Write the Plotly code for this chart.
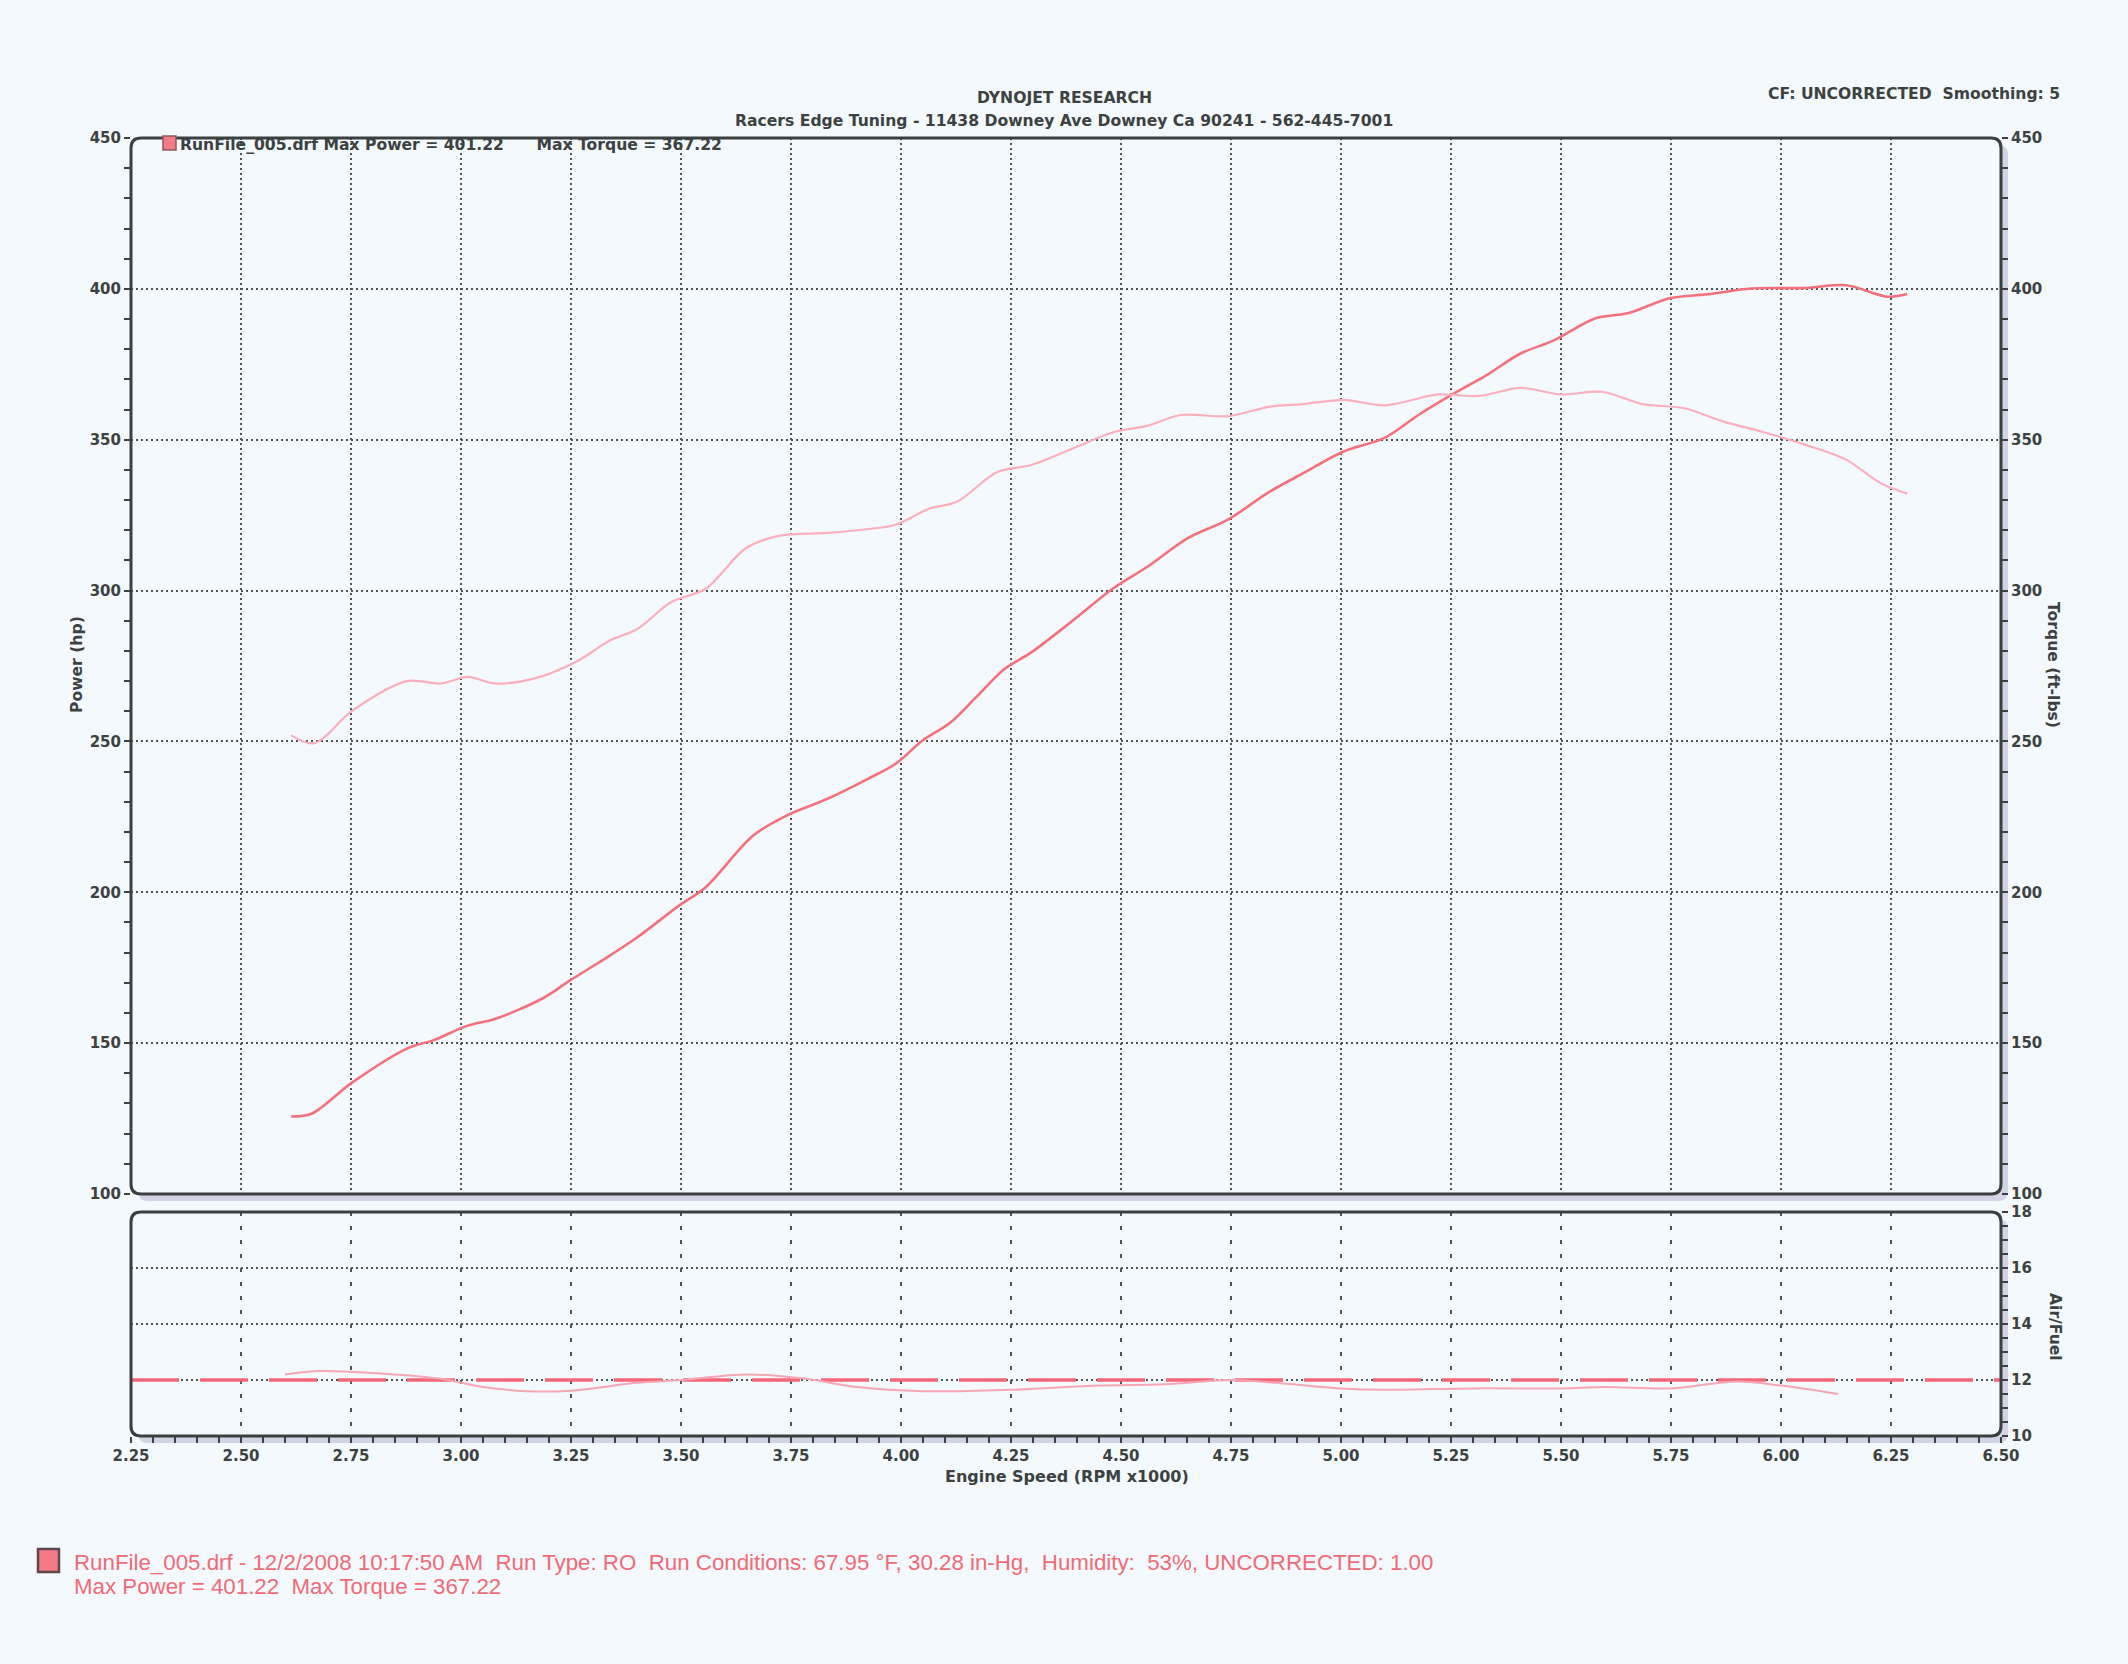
import plotly.graph_objects as go

# ---------------- data ----------------
power_rpm = [2.614, 2.66, 2.753, 2.877, 2.938, 3.015, 3.077, 3.185, 3.247, 3.34, 3.40, 3.494, 3.556,
             3.664, 3.741, 3.833, 3.926, 3.988, 4.049, 4.111, 4.173, 4.235, 4.296, 4.389, 4.481,
             4.559, 4.651, 4.744, 4.836, 4.914, 5.006, 5.099, 5.176, 5.253, 5.33, 5.407, 5.485,
             5.577, 5.654, 5.747, 5.84, 5.932, 6.056, 6.148, 6.241, 6.287]
power_hp = [125.7, 126.6, 137.0, 148.2, 151.0, 155.8, 158.0, 164.8, 170.7, 179.2, 185.0, 195.4, 201.7,
            218.8, 225.5, 231.0, 237.7, 242.6, 250.3, 256.1, 265.0, 274.0, 279.5, 289.9, 300.6,
            307.8, 317.3, 323.6, 332.6, 338.9, 346.1, 350.6, 358.2, 365.0, 371.3, 378.5, 383.0,
            390.2, 392.0, 396.9, 398.3, 400.1, 400.3, 401.2, 397.4, 398.3]

torque_rpm = [2.614, 2.667, 2.753, 2.877, 2.954, 3.015, 3.077, 3.17, 3.262, 3.34, 3.40, 3.478, 3.556,
              3.648, 3.725, 3.833, 3.926, 3.988, 4.065, 4.127, 4.219, 4.296, 4.389, 4.481, 4.559,
              4.636, 4.744, 4.836, 4.914, 5.006, 5.099, 5.222, 5.315, 5.407, 5.5, 5.593, 5.685,
              5.778, 5.87, 5.963, 6.056, 6.148, 6.225, 6.287]
torque_ftlb = [252.0, 249.4, 260.2, 270.0, 269.2, 271.4, 269.2, 271.0, 276.4, 283.6, 287.2, 296.2, 300.6,
               314.1, 318.2, 319.1, 320.4, 321.8, 327.2, 329.4, 339.3, 341.6, 347.0, 352.4, 354.6,
               358.2, 357.8, 360.9, 361.8, 363.2, 361.4, 365.0, 364.5, 367.2, 365.0, 365.9, 361.8,
               360.5, 356.0, 352.4, 348.3, 343.4, 335.7, 332.1]

afr_rpm = [2.60, 2.68, 2.80, 2.95, 3.05, 3.15, 3.25, 3.40, 3.50, 3.65, 3.78, 3.90, 4.05, 4.25,
           4.45, 4.60, 4.75, 4.85, 5.00, 5.10, 5.30, 5.50, 5.60, 5.75, 5.90, 6.00, 6.13]
afr = [12.2, 12.32, 12.25, 12.05, 11.75, 11.6, 11.62, 11.9, 12.0, 12.2, 12.05, 11.75, 11.6, 11.65,
       11.8, 11.85, 12.0, 11.9, 11.7, 11.65, 11.7, 11.7, 11.75, 11.7, 11.95, 11.8, 11.5]

afr_target_rpm = [2.25, 6.50]
afr_target = [12.0, 12.0]

x_ticks = [2.25, 2.50, 2.75, 3.00, 3.25, 3.50, 3.75, 4.00, 4.25, 4.50, 4.75, 5.00, 5.25, 5.50,
           5.75, 6.00, 6.25, 6.50]
hp_ticks = [100, 150, 200, 250, 300, 350, 400, 450]
afr_ticks = [10, 12, 14, 16, 18]

# ---------------- geometry helpers ----------------
W, H = 2128, 1664
L, R, T, B = 131, 2001, 138, 1436
PW, PH = R - L, B - T


def px(x):
    return (x - L) / PW


def py(y):
    return (B - y) / PH


MAIN_DOM = [py(1194), 1.0]
LOW_DOM = [0.0, py(1212)]

BG = "#f3f9fc"
INK = "#3c4141"
GRID = "#4f5555"
POWER_C = "#f4707c"
TORQUE_C = "#fbafbe"
AFR_C = "#f7a6b6"
TARGET_C = "#f26676"

fig = go.Figure()

fig.add_trace(go.Scatter(x=power_rpm, y=power_hp, mode="lines", xaxis="x", yaxis="y",
                         line=dict(color=POWER_C, width=2.6, shape="spline", smoothing=0.9),
                         showlegend=False, name="Power"))
fig.add_trace(go.Scatter(x=torque_rpm, y=torque_ftlb, mode="lines", xaxis="x", yaxis="y2",
                         line=dict(color=TORQUE_C, width=2.2, shape="spline", smoothing=0.9),
                         showlegend=False, name="Torque"))
fig.add_trace(go.Scatter(x=afr_target_rpm, y=afr_target, mode="lines", xaxis="x2", yaxis="y3",
                         line=dict(color=TARGET_C, width=3.5, dash="48px,21px"),
                         showlegend=False, name="Target"))
fig.add_trace(go.Scatter(x=afr_rpm, y=afr, mode="lines", xaxis="x2", yaxis="y3",
                         line=dict(color=AFR_C, width=2.0, shape="spline", smoothing=1.0),
                         showlegend=False, name="Air/Fuel"))

tickfont = dict(family="DejaVu Sans", size=15, color=INK, weight="bold")
xr = [x_ticks[0], x_ticks[-1]]
hr = [hp_ticks[0], hp_ticks[-1]]
ar = [afr_ticks[0], afr_ticks[-1]]

fig.update_layout(
    width=W, height=H,
    margin=dict(l=L, r=W - R, t=T, b=H - B),
    paper_bgcolor=BG, plot_bgcolor="rgba(0,0,0,0)",
    showlegend=False,
    xaxis=dict(domain=[0, 1], anchor="y", range=xr, tickvals=x_ticks, showticklabels=False,
               ticks="", showgrid=True, gridcolor=GRID, griddash="2px,3px", gridwidth=1.6,
               zeroline=False, showline=False),
    yaxis=dict(domain=MAIN_DOM, anchor="x", range=hr, tickvals=hp_ticks, ticks="outside",
               ticklen=6, tickwidth=2, tickcolor=INK, tickfont=tickfont,
               minor=dict(dtick=10, ticks="outside", ticklen=6, tickwidth=2, tickcolor=INK),
               showgrid=True, gridcolor=GRID, griddash="2px,3px", gridwidth=1.6,
               zeroline=False, showline=False),
    yaxis4=dict(domain=MAIN_DOM, anchor="x", overlaying="y", side="left", range=hr,
                tickvals=hp_ticks, ticks="inside", ticklen=5, tickwidth=2, tickcolor=INK,
                showticklabels=False, showgrid=False, zeroline=False,
                minor=dict(dtick=10, ticks="inside", ticklen=5, tickwidth=2, tickcolor=INK)),
    yaxis2=dict(domain=MAIN_DOM, anchor="x", overlaying="y", side="right", range=hr,
                tickvals=hp_ticks, ticks="outside", ticklen=6, tickwidth=2, tickcolor=INK,
                tickfont=tickfont, showgrid=False, zeroline=False, showline=False,
                minor=dict(dtick=10, ticks="outside", ticklen=6, tickwidth=2, tickcolor=INK)),
    yaxis5=dict(domain=MAIN_DOM, anchor="x", overlaying="y", side="right", range=hr,
                tickvals=hp_ticks, ticks="inside", ticklen=5, tickwidth=2, tickcolor=INK,
                showticklabels=False, showgrid=False, zeroline=False,
                minor=dict(dtick=10, ticks="inside", ticklen=5, tickwidth=2, tickcolor=INK)),
    xaxis2=dict(domain=[0, 1], anchor="y3", range=xr, tickvals=x_ticks, tickformat=".2f",
                ticks="outside", ticklen=6, tickwidth=2, tickcolor=INK, tickfont=tickfont,
                minor=dict(dtick=0.05, ticks="outside", ticklen=6, tickwidth=2, tickcolor=INK),
                showgrid=True, gridcolor=GRID, griddash="4px,10px", gridwidth=1.6,
                zeroline=False, showline=False),
    xaxis3=dict(domain=[0, 1], anchor="y3", overlaying="x2", range=xr, tickvals=x_ticks,
                ticks="inside", ticklen=6, tickwidth=2, tickcolor=INK, showticklabels=False,
                showgrid=False, zeroline=False,
                minor=dict(dtick=0.05, ticks="inside", ticklen=6, tickwidth=2, tickcolor=INK)),
    yaxis3=dict(domain=LOW_DOM, anchor="x2", side="right", range=ar, tickvals=afr_ticks,
                ticks="outside", ticklen=6, tickwidth=2, tickcolor=INK, tickfont=tickfont,
                minor=dict(dtick=0.5, ticks="outside", ticklen=6, tickwidth=2, tickcolor=INK),
                showgrid=True, gridcolor=GRID, griddash="2px,3px", gridwidth=1.6,
                zeroline=False, showline=False),
    yaxis6=dict(domain=LOW_DOM, anchor="x2", overlaying="y3", side="right", range=ar,
                tickvals=afr_ticks, ticks="inside", ticklen=5, tickwidth=2, tickcolor=INK,
                showticklabels=False, showgrid=False, zeroline=False,
                minor=dict(dtick=0.5, ticks="inside", ticklen=5, tickwidth=2, tickcolor=INK)),
)


def rrect(x0, y0, x1, y1, r):
    """rounded rectangle path in paper coords from pixel coords"""
    rx, ry = r / PW, r / PH
    X0, X1 = px(x0), px(x1)
    Y0, Y1 = py(y0), py(y1)  # Y0 top, Y1 bottom
    return (f"M {X0+rx} {Y0} L {X1-rx} {Y0} Q {X1} {Y0} {X1} {Y0-ry} "
            f"L {X1} {Y1+ry} Q {X1} {Y1} {X1-rx} {Y1} L {X0+rx} {Y1} "
            f"Q {X0} {Y1} {X0} {Y1+ry} L {X0} {Y0-ry} Q {X0} {Y0} {X0+rx} {Y0} Z")


shapes = []
SHADOW = "#d2d3e6"
for (y0, y1) in [(T, 1194), (1212, B)]:
    shapes.append(dict(type="path", path=rrect(L + 7, y0 + 7, R + 7, y1 + 7, 10), xref="paper",
                       yref="paper", fillcolor=SHADOW, line=dict(width=0), layer="below"))
    shapes.append(dict(type="path", path=rrect(L, y0, R, y1, 10), xref="paper", yref="paper",
                       fillcolor=BG, line=dict(width=0), layer="below"))
    shapes.append(dict(type="path", path=rrect(L, y0, R, y1, 10), xref="paper", yref="paper",
                       line=dict(color="#3a3f3f", width=3), layer="above"))

# legend squares
shapes.append(dict(type="rect", xref="paper", yref="paper", x0=px(163), x1=px(176),
                   y0=py(150), y1=py(136), fillcolor="#f47a86", line=dict(color="#8a5a5e", width=1.5)))
shapes.append(dict(type="rect", xref="paper", yref="paper", x0=px(38), x1=px(59),
                   y0=py(1572), y1=py(1549), fillcolor="#f47a86", line=dict(color="#5e4a4c", width=2.5)))
fig.update_layout(shapes=shapes)

NB = "\u00a0"
bold = dict(family="DejaVu Sans", size=15.6, color=INK, weight="bold")
ann = []


def add(text, x, y, xanchor="center", font=bold, angle=0):
    ann.append(dict(text=text, x=px(x), y=py(y), xref="paper", yref="paper", showarrow=False,
                    xanchor=xanchor, yanchor="middle", font=font, textangle=angle))


add("DYNOJET RESEARCH", 1064, 98)
add("Racers Edge Tuning - 11438 Downey Ave Downey Ca 90241 - 562-445-7001", 1064, 121)
add("CF: UNCORRECTED" + NB * 2 + "Smoothing: 5", 2062, 94, xanchor="right")
add("RunFile_005.drf Max Power = 401.22" + NB * 6 + "Max Torque = 367.22", 178, 145, xanchor="left")
add("Power (hp)", 77, 665, angle=-90)
add("Torque (ft-lbs)", 2053, 665, angle=90)
add("Air/Fuel", 2055, 1327, angle=90)
add("Engine Speed (RPM x1000)", 1067, 1476, font=dict(family="DejaVu Sans", size=16, color=INK, weight="bold"))

red_font = dict(family="Liberation Sans, Arial", size=22.3, color="#f06a78")
add("RunFile_005.drf - 12/2/2008 10:17:50 AM" + NB * 2 + "Run Type: RO" + NB * 2 +
    "Run Conditions: 67.95 °F, 30.28 in-Hg," + NB * 2 + "Humidity:" + NB * 2 +
    "53%, UNCORRECTED: 1.00", 72, 1562, xanchor="left", font=red_font)
add("Max Power = 401.22" + NB * 2 + "Max Torque = 367.22", 72, 1586, xanchor="left", font=red_font)
fig.update_layout(annotations=ann)

post = ("document.documentElement.style.margin='0';document.body.style.margin='0';"
        "document.body.style.padding='0';document.body.style.overflow='hidden';"
        "document.body.style.backgroundColor='" + BG + "';")
fig.write_html("out.html", post_script=post, config={"displayModeBar": False})
